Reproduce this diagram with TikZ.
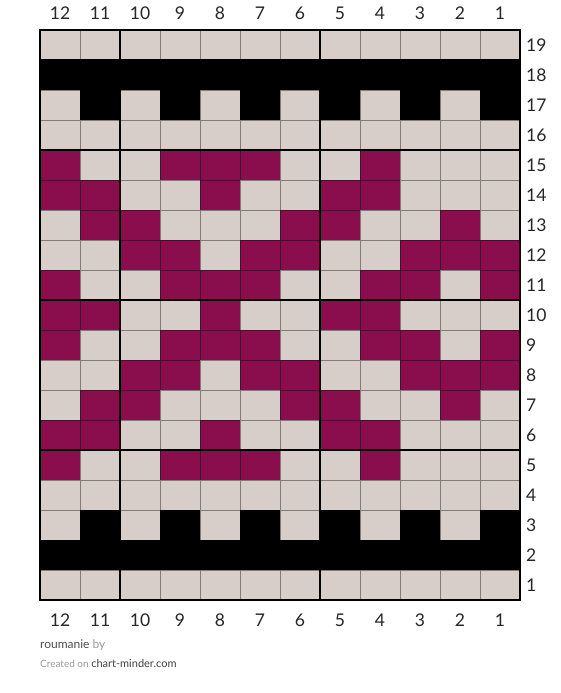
\documentclass[tikz,border=0pt]{standalone}
\usepackage{fontspec}
\setmainfont{Lato}
\definecolor{cL}{RGB}{215,205,201}
\definecolor{cP}{RGB}{138,14,77}
\definecolor{cB}{RGB}{0,0,0}

\begin{document}
\begin{tikzpicture}[x=1pt,y=-1pt,
  cell/.style={fill=#1,draw=#1!60!black,line width=1pt},
  num/.style={font=\fontsize{17.5}{20}\selectfont,text=black!85,inner sep=0pt}]

\useasboundingbox (0,0) rectangle (560,693);

% Chart rows, leftmost column is 12
\foreach \r/\pat in {
  19/{L,L,L,L,L,L,L,L,L,L,L,L},
  18/{B,B,B,B,B,B,B,B,B,B,B,B},
  17/{L,B,L,B,L,B,L,B,L,B,L,B},
  16/{L,L,L,L,L,L,L,L,L,L,L,L},
  15/{P,L,L,P,P,P,L,L,P,L,L,L},
  14/{P,P,L,L,P,L,L,P,P,L,L,L},
  13/{L,P,P,L,L,L,P,P,L,L,P,L},
  12/{L,L,P,P,L,P,P,L,L,P,P,P},
  11/{P,L,L,P,P,P,L,L,P,P,L,P},
  10/{P,P,L,L,P,L,L,P,P,L,L,L},
  9/{P,L,L,P,P,P,L,L,P,P,L,P},
  8/{L,L,P,P,L,P,P,L,L,P,P,P},
  7/{L,P,P,L,L,L,P,P,L,L,P,L},
  6/{P,P,L,L,P,L,L,P,P,L,L,L},
  5/{P,L,L,P,P,P,L,L,P,L,L,L},
  4/{L,L,L,L,L,L,L,L,L,L,L,L},
  3/{L,B,L,B,L,B,L,B,L,B,L,B},
  2/{B,B,B,B,B,B,B,B,B,B,B,B},
  1/{L,L,L,L,L,L,L,L,L,L,L,L}}
  \foreach \s [count=\i] in \pat
    \draw[cell=c\s] ({40*\i},{30*(20-\r)}) rectangle ++(40,30);

% Heavy lines every 5 stitches
\draw[line width=2pt] (40,30) rectangle (520,600);
\foreach \x in {120,320}
  \draw[line width=2pt] (\x,30) -- (\x,600);
\foreach \y in {150,300,450}
  \draw[line width=2pt] (40,\y) -- (520,\y);

% Column numbers
\foreach \i in {1,...,12}{
  \pgfmathtruncatemacro{\c}{13-\i}
  \node[num] (top\c) at ({40*\i+20},13) {\c};
  \node[num] (bot\c) at ({40*\i+20},620) {\c};
}

% Row numbers
\foreach \r in {1,...,19}
  \node[num,anchor=west] (row\r) at (526,{30*(20-\r)+15}) {\r};

% Credits
\node[anchor=west,inner sep=0pt,font=\fontsize{12}{14}\selectfont] (title) at (40,645)
  {\textcolor{black!70}{roumanie} \textcolor{black!40}{by}};
\node[anchor=west,inner sep=0pt] (credit) at (40,663)
  {{\fontsize{10}{12}\selectfont\color{black!40}Created on} {\fontsize{11}{13}\selectfont\color{black!75}chart-minder.com}};

\end{tikzpicture}
\end{document}
